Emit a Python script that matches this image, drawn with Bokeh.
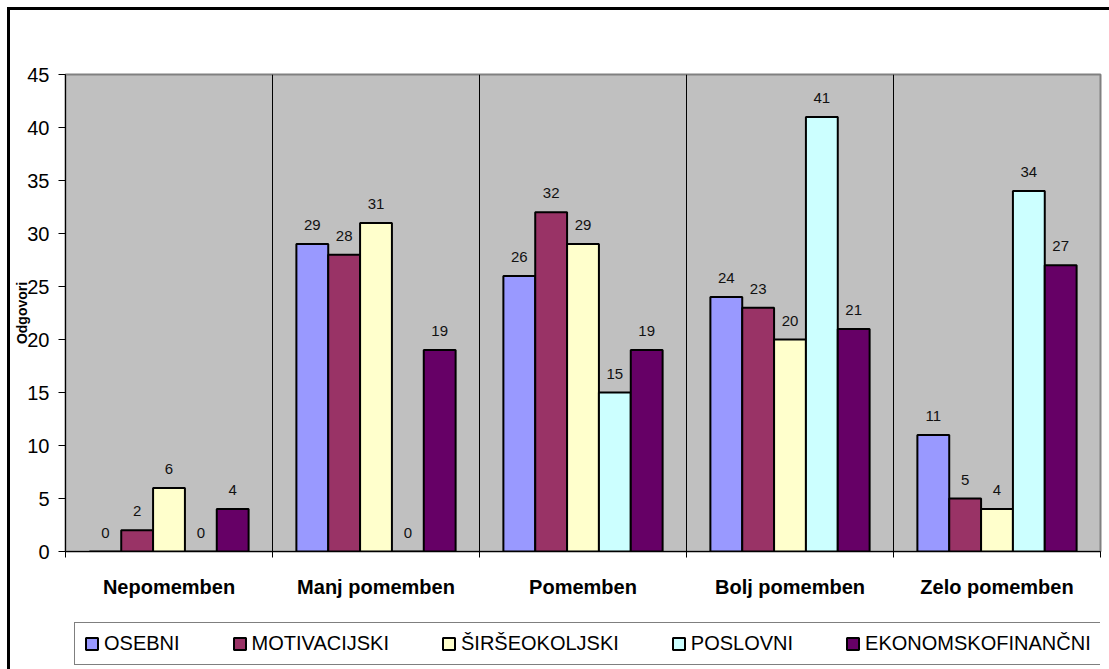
from bokeh.plotting import figure
from bokeh.models import Range1d, FixedTicker, Legend, ColumnDataSource
from bokeh.layouts import column
from bokeh.embed import file_html
from bokeh.resources import INLINE

categories = ["Nepomemben", "Manj pomemben", "Pomemben", "Bolj pomemben", "Zelo pomemben"]
series_names = ["OSEBNI", "MOTIVACIJSKI", "ŠIRŠEOKOLJSKI", "POSLOVNI", "EKONOMSKOFINANČNI"]
osebni = [0, 29, 26, 24, 11]
motivacijski = [2, 28, 32, 23, 5]
sirseokoljski = [6, 31, 29, 20, 4]
poslovni = [0, 0, 15, 41, 34]
ekonomskofinancni = [4, 19, 19, 21, 27]
y_ticks = [0, 5, 10, 15, 20, 25, 30, 35, 40, 45]
y_label = "Odgovori"

series_values = [osebni, motivacijski, sirseokoljski, poslovni, ekonomskofinancni]
colors = ["#9999FF", "#993366", "#FFFFCC", "#CCFFFF", "#660066"]

FONT = "Liberation Sans"
n_cat = len(categories)
n_ser = len(series_names)
bar_w = 1.0 / (n_ser + 1.5)

p = figure(width=1099, height=612, output_backend="svg", toolbar_location=None,
           x_range=Range1d(0, n_cat), y_range=Range1d(0, 45),
           min_border_left=55, min_border_right=9, min_border_top=64, min_border_bottom=71)
p.background_fill_color = "#C0C0C0"
p.border_fill_color = "white"
p.outline_line_color = "#808080"
p.outline_line_width = 2

# x axis: labels at category centres, ticks at boundaries
centers = [i + 0.5 for i in range(n_cat)]
bounds = list(range(n_cat + 1))
p.xaxis.ticker = FixedTicker(ticks=centers, minor_ticks=bounds)
p.xaxis.major_label_overrides = {c: lab for c, lab in zip(centers, categories)}
p.xaxis.major_tick_line_color = None
p.xaxis.major_tick_out = 0
p.xaxis.major_tick_in = 0
p.xaxis.minor_tick_line_color = "black"
p.xaxis.minor_tick_out = 6
p.xaxis.minor_tick_in = 0
p.xaxis.axis_line_color = "black"
p.xaxis.major_label_text_font = FONT
p.xaxis.major_label_text_font_style = "bold"
p.xaxis.major_label_text_font_size = "20px"
p.xaxis.major_label_text_color = "black"
p.xaxis.major_label_standoff = 18

p.yaxis.ticker = FixedTicker(ticks=y_ticks)
p.yaxis.minor_tick_line_color = None
p.yaxis.major_tick_out = 7
p.yaxis.major_tick_in = 0
p.yaxis.major_tick_line_color = "black"
p.yaxis.axis_line_color = "black"
p.yaxis.major_label_text_font = FONT
p.yaxis.major_label_text_font_size = "20px"
p.yaxis.major_label_text_color = "black"
p.yaxis.major_label_standoff = 9
p.yaxis.axis_label = y_label
p.yaxis.axis_label_text_font = FONT
p.yaxis.axis_label_text_font_style = "bold"
p.yaxis.axis_label_text_font_size = "14px"
p.yaxis.axis_label_text_color = "black"
p.yaxis.axis_label_standoff = -6

p.ygrid.visible = False
p.xgrid.ticker = FixedTicker(ticks=bounds[1:-1])
p.xgrid.grid_line_color = "black"
p.xgrid.grid_line_width = 1

# legend strip below the chart (series drawn hidden there, only for the legend keys)
lf = figure(width=1099, height=47, output_backend="svg", toolbar_location=None,
            x_range=Range1d(0, n_cat), y_range=Range1d(0, 45),
            min_border_left=0, min_border_right=8, min_border_top=0, min_border_bottom=0)
lf.axis.visible = False
lf.grid.visible = False
lf.outline_line_color = None
lf.background_fill_color = "white"
lf.border_fill_color = "white"

items = []
for i, (name, vals, col) in enumerate(zip(series_names, series_values, colors)):
    off = (i - (n_ser - 1) / 2) * bar_w
    xs = [c + off for c in centers]
    src = ColumnDataSource(dict(x=xs, top=vals, lab=[str(v) for v in vals]))
    p.vbar(x="x", top="top", width=bar_w, source=src, fill_color=col,
           line_color="black", line_width=2)
    p.text(x="x", y="top", text="lab", source=src, text_align="center",
           text_baseline="alphabetic", y_offset=-19, text_font_size="15px",
           text_font={"value": FONT}, text_color="#111111")
    r = lf.vbar(x="x", top="top", width=bar_w, source=src, fill_color=col,
                line_color="black", line_width=2, visible=False)
    items.append((name, [r]))

legend = Legend(items=items, orientation="horizontal", location=(9, 4),
                spacing=52, label_standoff=5, glyph_width=15, glyph_height=15,
                label_height=14, padding=9, margin=0,
                label_text_font=FONT, label_text_font_size="20px",
                label_text_color="black", border_line_color="black",
                border_line_width=1, background_fill_color="white",
                background_fill_alpha=1, inactive_fill_alpha=0)
lf.add_layout(legend, "center")

layout = column(p, lf, spacing=0)
layout.styles = {"margin-left": "7px", "margin-top": "7px",
                 "border-left": "3px solid black", "border-top": "3px solid black"}

open("out.html", "w").write(file_html(layout, INLINE))
